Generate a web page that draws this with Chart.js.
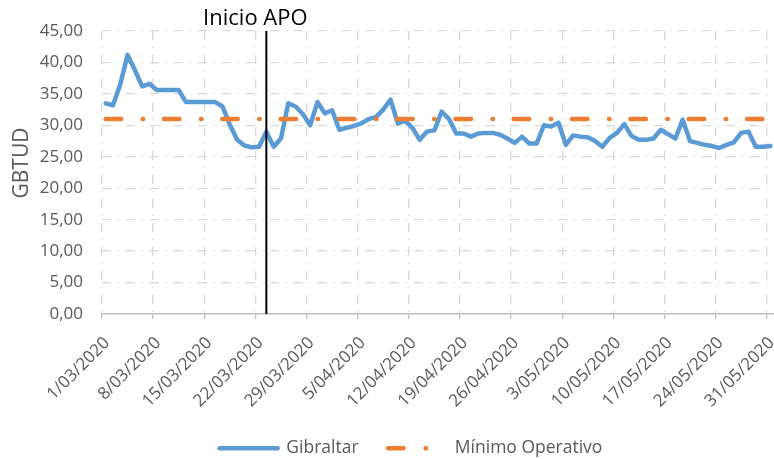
<!DOCTYPE html>
<html><head><meta charset="utf-8">
<script src="https://cdn.jsdelivr.net/npm/chart.js@4.4.0/dist/chart.umd.min.js"></script>
<style>html,body{margin:0;padding:0;background:#fff}#wrap{width:774px;height:459px}</style>
</head><body><div id="wrap"><canvas id="c" width="774" height="459"></canvas></div>
<script>
// ---- data ----
const dates = [
 '1/03/2020','2/03/2020','3/03/2020','4/03/2020','5/03/2020','6/03/2020','7/03/2020','8/03/2020','9/03/2020','10/03/2020',
 '11/03/2020','12/03/2020','13/03/2020','14/03/2020','15/03/2020','16/03/2020','17/03/2020','18/03/2020','19/03/2020','20/03/2020',
 '21/03/2020','22/03/2020','23/03/2020','24/03/2020','25/03/2020','26/03/2020','27/03/2020','28/03/2020','29/03/2020','30/03/2020',
 '31/03/2020','1/04/2020','2/04/2020','3/04/2020','4/04/2020','5/04/2020','6/04/2020','7/04/2020','8/04/2020','9/04/2020',
 '10/04/2020','11/04/2020','12/04/2020','13/04/2020','14/04/2020','15/04/2020','16/04/2020','17/04/2020','18/04/2020','19/04/2020',
 '20/04/2020','21/04/2020','22/04/2020','23/04/2020','24/04/2020','25/04/2020','26/04/2020','27/04/2020','28/04/2020','29/04/2020',
 '30/04/2020','1/05/2020','2/05/2020','3/05/2020','4/05/2020','5/05/2020','6/05/2020','7/05/2020','8/05/2020','9/05/2020',
 '10/05/2020','11/05/2020','12/05/2020','13/05/2020','14/05/2020','15/05/2020','16/05/2020','17/05/2020','18/05/2020','19/05/2020',
 '20/05/2020','21/05/2020','22/05/2020','23/05/2020','24/05/2020','25/05/2020','26/05/2020','27/05/2020','28/05/2020','29/05/2020',
 '30/05/2020','31/05/2020'];
const tickLabels = ['1/03/2020','8/03/2020','15/03/2020','22/03/2020','29/03/2020','5/04/2020','12/04/2020',
 '19/04/2020','26/04/2020','3/05/2020','10/05/2020','17/05/2020','24/05/2020','31/05/2020'];
const yTicks = [0,5,10,15,20,25,30,35,40,45];
const gibraltar = [
 33.5,33.2,36.5,41.2,38.8,36.2,36.6,35.6,35.6,35.6,
 35.6,33.7,33.7,33.7,33.7,33.7,33.0,30.1,27.7,26.8,
 26.5,26.6,29.0,26.6,27.9,33.5,33.0,31.8,30.0,33.7,
 31.9,32.4,29.3,29.6,29.9,30.3,31.0,31.3,32.5,34.1,
 30.3,30.7,29.6,27.7,29.0,29.2,32.2,31.0,28.7,28.7,
 28.2,28.7,28.8,28.8,28.5,27.9,27.2,28.2,27.1,27.1,
 30.0,29.8,30.4,26.9,28.4,28.2,28.1,27.5,26.6,28.0,
 28.8,30.2,28.3,27.7,27.7,27.9,29.3,28.6,27.9,30.9,
 27.5,27.2,26.9,26.7,26.4,26.9,27.3,28.8,29.0,26.6,
 26.6,26.7];
const minimoOperativo = dates.map(() => 31);
const apoDate = '23/03/2020';
const seriesNames = ['Gibraltar', 'Mínimo Operativo'];
const yTitle = 'GBTUD';
const apoLabel = 'Inicio APO';

// ---- styling ----
const FONT = 'Open Sans';
const GRAY = '#595959';
const GRID = '#d9d9d9';
const GRID_DASH = [9, 7, 1, 7];
const ORANGE_DASH = [15.5, 21.5, 0.5, 20.8];

const toPts = arr => arr.map((v, i) => ({x: i + 0.5, y: v}));

const apoPlugin = {
  id: 'apo',
  afterDatasetsDraw(chart) {
    const {ctx, chartArea, scales} = chart;
    const x = scales.x.getPixelForValue(dates.indexOf(apoDate) + 0.5);
    ctx.save();
    ctx.strokeStyle = '#000';
    ctx.lineWidth = 2;
    ctx.beginPath();
    ctx.moveTo(x, chartArea.top);
    ctx.lineTo(x, chartArea.bottom);
    ctx.stroke();
    ctx.fillStyle = '#000';
    ctx.font = '22px "' + FONT + '"';
    ctx.textAlign = 'center';
    ctx.textBaseline = 'alphabetic';
    ctx.fillText(apoLabel, x - 11, 25);
    ctx.restore();
  }
};
const yTitlePlugin = {
  id: 'ytitle',
  afterDraw(chart) {
    const {ctx} = chart;
    ctx.save();
    ctx.translate(22, 163);
    ctx.rotate(-Math.PI / 2);
    ctx.fillStyle = GRAY;
    ctx.font = '21px "' + FONT + '"';
    ctx.textAlign = 'center';
    ctx.textBaseline = 'middle';
    ctx.fillText(yTitle, 0, 0);
    ctx.restore();
  }
};
const LEGEND_DX = 24, LEGEND_DY = 8;
const layoutTweak = {
  id: 'layoutTweak',
  afterLayout(chart) {
    const l = chart.legend;
    l.left += LEGEND_DX; l.right += LEGEND_DX;
    l.top += LEGEND_DY; l.bottom += LEGEND_DY;
    // let the rotated date labels use the space down to the legend text
    chart.scales.x.bottom = chart.height;
  }
};

const PLOT_LEFT = 102, PLOT_TOP = 31, PLOT_BOTTOM = 314;

new Chart(document.getElementById('c'), {
  type: 'line',
  data: {
    datasets: [
      {label: seriesNames[0], data: toPts(gibraltar), borderColor: '#5B9BD5', backgroundColor: '#5B9BD5',
       borderWidth: 4.5, pointRadius: 0, tension: 0, borderCapStyle: 'round', borderJoinStyle: 'round', order: 1},
      {label: seriesNames[1], data: toPts(minimoOperativo), borderColor: '#ED7D31', backgroundColor: '#ED7D31',
       borderWidth: 4.5, pointRadius: 0, borderDash: ORANGE_DASH, borderCapStyle: 'round', order: 0}
    ]
  },
  options: {
    responsive: false,
    animation: false,
    devicePixelRatio: 1,
    layout: {padding: {left: 0, right: 0, top: PLOT_TOP, bottom: 0}},
    plugins: {
      tooltip: {enabled: false},
      legend: {
        position: 'bottom',
        labels: {
          usePointStyle: true, pointStyle: 'line', pointStyleWidth: 58, boxHeight: 4,
          padding: 29.5, color: GRAY, font: {family: FONT, size: 17.5},
          generateLabels(chart) {
            return chart.data.datasets.map((ds, i) => ({
              text: ds.label, strokeStyle: ds.borderColor, fillStyle: ds.borderColor,
              lineWidth: ds.borderWidth, lineCap: 'round', pointStyle: 'line',
              lineDash: i === 1 ? [15.5, 22, 0.5, 40] : [],
              lineDashOffset: 0,
              fontColor: GRAY, hidden: false, datasetIndex: i
            }));
          }
        }
      }
    },
    scales: {
      x: {
        type: 'linear', min: 0, max: dates.length,
        afterBuildTicks: s => { s.ticks = tickLabels.map((_, i) => ({value: i * 7})); },
        afterFit: s => {
          s.height = s.chart.height - s.chart.legend.height - PLOT_BOTTOM;
          s.paddingLeft = 0; s.paddingRight = 0;
        },
        ticks: {
          autoSkip: false, maxRotation: 45, minRotation: 45, color: GRAY, padding: 14, labelOffset: 5,
          font: {family: FONT, size: 17},
          callback: (v, i) => tickLabels[i]
        },
        grid: {color: GRID, lineWidth: 1.3, drawTicks: true, tickLength: 5, tickColor: '#bfbfbf', tickWidth: 1.3, tickBorderDash: []},
        border: {display: true, color: '#bfbfbf', width: 1.5, dash: GRID_DASH}
      },
      y: {
        min: 0, max: 45,
        afterBuildTicks: s => { s.ticks = yTicks.map(v => ({value: v})); },
        afterFit: s => { s.width = PLOT_LEFT; },
        ticks: {
          color: GRAY, padding: 19, font: {family: FONT, size: 17},
          callback: v => v.toFixed(2).replace('.', ',')
        },
        grid: {color: GRID, lineWidth: 1.3, drawTicks: false},
        border: {display: false, dash: GRID_DASH}
      }
    }
  },
  plugins: [apoPlugin, yTitlePlugin, layoutTweak]
});
</script>
</body></html>
